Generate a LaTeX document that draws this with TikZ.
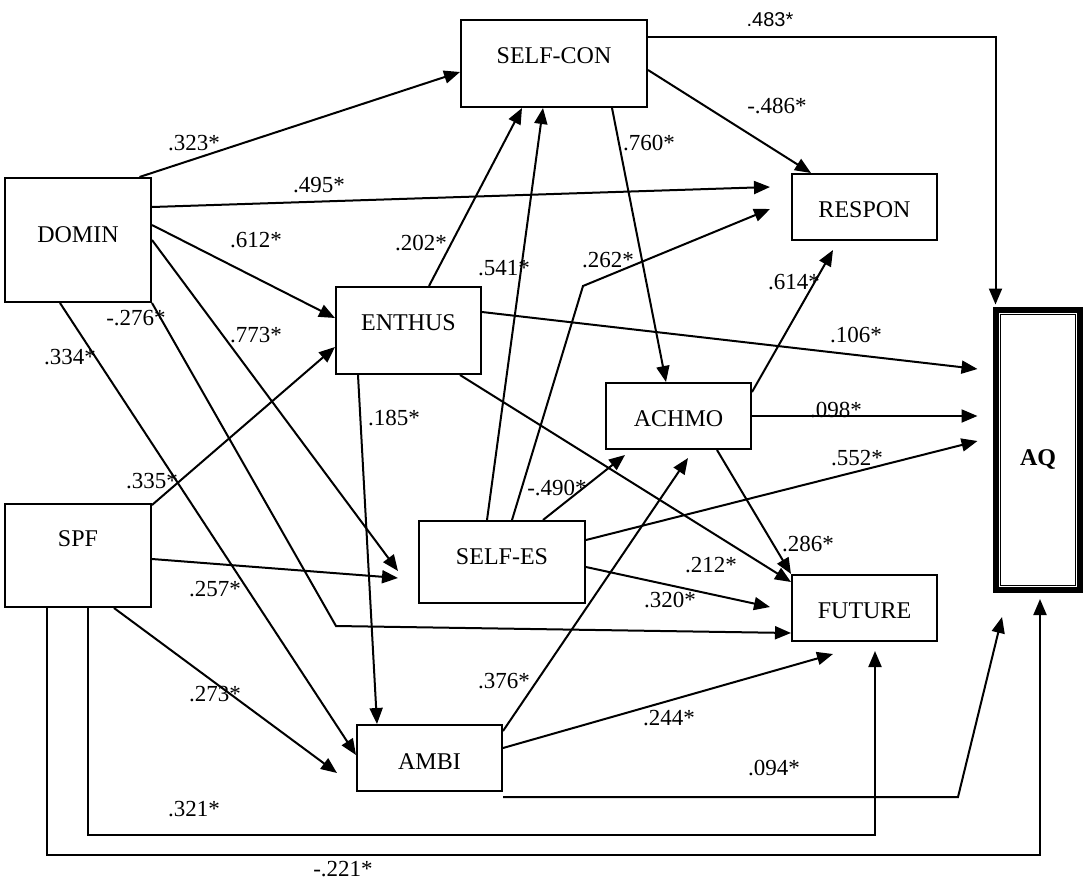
\documentclass[tikz,border=0pt]{standalone}
\usepackage{fontspec}
\setmainfont{Liberation Serif}
\newfontfamily\arialfont{Liberation Sans}
\usepackage{tikz}
\usetikzlibrary{arrows.meta, positioning}
\tikzset{
  varnode/.style={rectangle, draw, line width=2pt, inner sep=3pt, text height=15pt, text depth=0pt, font=\fontsize{24}{28}\selectfont},
  outnode/.style={rectangle, draw, line width=5.5pt, inner sep=3pt, text height=15pt, text depth=0pt, font=\fontsize{24}{28}\selectfont\bfseries},
  pathline/.style={line width=2pt, -{Triangle[length=16pt, width=13pt]}},
  coeflabel/.style={inner sep=0pt, font=\fontsize{23}{27}\selectfont},
}
\begin{document}
\begin{tikzpicture}[x=1pt, y=-1pt]
\useasboundingbox (0,0) rectangle (1086,883);
\node[varnode, minimum width=186pt, minimum height=87pt, text depth=15pt] (selfcon) at (554,63.5) {SELF-CON};
\node[varnode, minimum width=146pt, minimum height=124pt, text depth=10pt] (domin) at (78,240) {DOMIN};
\node[varnode, minimum width=145pt, minimum height=66pt, text height=21pt] (respon) at (864.5,207) {RESPON};
\node[varnode, minimum width=145pt, minimum height=87pt, text depth=15pt] (enthus) at (408.5,330.5) {ENTHUS};
\node[varnode, minimum width=145pt, minimum height=66pt, text height=21pt] (achmo) at (678.5,416) {ACHMO};
\node[varnode, minimum width=146pt, minimum height=103pt, text depth=33pt] (spf) at (78,555.5) {SPF};
\node[varnode, minimum width=166pt, minimum height=82pt, text depth=10pt] (selfes) at (502,562) {SELF-ES};
\node[varnode, minimum width=145pt, minimum height=66pt, text height=21pt] (future) at (864.5,608) {FUTURE};
\node[varnode, minimum width=145pt, minimum height=66pt, text height=23pt] (ambi) at (429.5,758) {AMBI};
\node[outnode, minimum width=84.5pt, minimum height=280.5pt, text height=31pt] (aq) at (1038,450) {AQ};
\draw[double, line width=0.7pt, double distance=1.6pt] ([shift={(6.5pt,-6.5pt)}]aq.north west) rectangle ([shift={(-6.5pt,6.5pt)}]aq.south east);

\coordinate (respon-a) at (770,187);
\coordinate (respon-b) at (770,209);
\coordinate (respon-c) at (833,250);
\coordinate (selfes-a) at (398,571);
\coordinate (selfes-b) at (398,578);
\coordinate (ambi-a) at (337,773);
\coordinate (achmo-a) at (625,455);
\coordinate (achmo-b) at (688,458);
\coordinate (future-a) at (770,607);
\coordinate (future-b) at (833,654);
\coordinate (future-c) at (875,651);
\coordinate (aq-a) at (977.5,369);
\coordinate (aq-b) at (977.5,416);
\coordinate (aq-c) at (977.5,441);
\coordinate (aq-d) at (1002,617);
\coordinate (aq-e) at (1040,599);
\coordinate (bend262) at (583,286);
\coordinate (bend276) at (336,626);

\draw[pathline] ([xshift=-12.5pt]domin.north east) -- ([yshift=-8.5pt]selfcon.west);
\draw[pathline] ([yshift=33pt]domin.east) -- (respon-a);
\draw[pathline] ([yshift=15pt]domin.east) -- ([yshift=12.5pt]enthus.west);
\draw[pathline] (domin.east) -- (selfes-a);
\draw[pathline] (domin.south east) -- (bend276) -- ([yshift=-25pt]future.west);
\draw[pathline] ([xshift=-18pt]domin.south) -- ([yshift=3pt]ambi.west);
\draw[pathline] ([yshift=-2pt]spf.north east) -- ([yshift=-16.5pt]enthus.west);
\draw[pathline] ([yshift=-3.5pt]spf.east) -- (selfes-b);
\draw[pathline] ([xshift=36pt]spf.south) -- (ambi-a);
\draw[pathline] ([xshift=10pt]spf.south) -- ++(0,227) -| (future-c);
\draw[pathline] ([xshift=-31pt]spf.south) -- ++(0,247) -| (aq-e);
\draw[pathline] ([xshift=20.5pt]enthus.north) -- ([xshift=-32pt]selfcon.south);
\draw[pathline] ([xshift=-50.5pt]enthus.south) -- ([xshift=-52.5pt]ambi.north);
\draw[pathline] ([xshift=51.5pt]enthus.south) -- ([yshift=-8pt]future.north west);
\draw[pathline] ([yshift=18.5pt]enthus.east) -- (aq-a);
\draw[pathline] ([xshift=-15pt]selfes.north) -- ([xshift=-11pt]selfcon.south);
\draw[pathline] ([xshift=10pt]selfes.north) -- (bend262) -- (respon-b);
\draw[pathline] ([xshift=41pt]selfes.north) -- (achmo-a);
\draw[pathline] ([yshift=22pt]selfes.east) -- (aq-c);
\draw[pathline] ([yshift=-5pt]selfes.east) -- (future-a);
\draw[pathline] ([yshift=-6.5pt]selfcon.east) -- ([xshift=20pt]respon.north west);
\draw[pathline] ([xshift=58pt]selfcon.south) -- ([xshift=-12.5pt]achmo.north);
\draw[pathline] ([yshift=26.5pt]selfcon.east) -| ([xshift=2.5pt,yshift=2.5pt]aq.north west);
\draw[pathline] ([yshift=-10pt]achmo.north east) -- (respon-c);
\draw[pathline] (achmo.east) -- (aq-b);
\draw[pathline] ([xshift=38.5pt]achmo.south) -- (future.north west);
\draw[pathline] ([yshift=-7pt]ambi.north east) -- (achmo-b);
\draw[pathline] ([yshift=10pt]ambi.east) -- (future-b);
\draw[pathline] ([yshift=-5pt]ambi.south east) -- ++(455,0) -- (aq-d);

\node[coeflabel] (l323) at (194,143) {.323*};
\node[coeflabel] (l495) at (319,185) {.495*};
\node[coeflabel] (l612) at (256,240) {.612*};
\node[coeflabel] (l773) at (256,335) {.773*};
\node[coeflabel] (l276) at (136,318) {-.276*};
\node[coeflabel] (l334) at (70,357) {.334*};
\node[coeflabel] (l335) at (152,481) {.335*};
\node[coeflabel] (l257) at (215,589) {.257*};
\node[coeflabel] (l273) at (215,694) {.273*};
\node[coeflabel] (l321) at (194,809) {.321*};
\node[coeflabel] (l221) at (343,869) {-.221*};
\node[coeflabel] (l202) at (421,243) {.202*};
\node[coeflabel] (l185) at (394,418) {.185*};
\node[coeflabel] (l212) at (711,565) {.212*};
\node[coeflabel] (l106) at (856,335) {.106*};
\node[coeflabel] (l541) at (504,268) {.541*};
\node[coeflabel] (l262) at (608,260) {.262*};
\node[coeflabel] (l490) at (557,488) {-.490*};
\node[coeflabel] (l552) at (857,458) {.552*};
\node[coeflabel] (l320) at (670,600) {.320*};
\node[coeflabel] (l486) at (777,106) {-.486*};
\node[coeflabel] (l760) at (649,143) {.760*};
\node[coeflabel, font=\arialfont\fontsize{20}{24}\selectfont] (l483) at (770,20) {.483*};
\node[coeflabel] (l614) at (794,282) {.614*};
\node[coeflabel] (l098) at (836,410) {.098*};
\node[coeflabel] (l286) at (808,544) {.286*};
\node[coeflabel] (l376) at (504,681) {.376*};
\node[coeflabel] (l244) at (669,718) {.244*};
\node[coeflabel] (l094) at (774,768) {.094*};
\end{tikzpicture}
\end{document}
